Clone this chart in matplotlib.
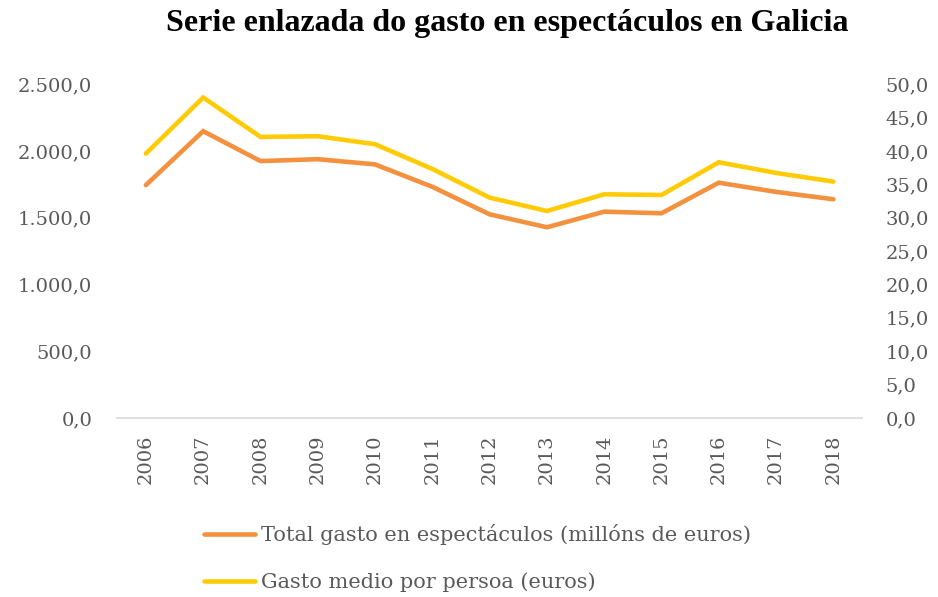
import matplotlib
matplotlib.use("Agg")
import matplotlib.pyplot as plt
from matplotlib.ticker import FuncFormatter, MultipleLocator

years = ["2006", "2007", "2008", "2009", "2010", "2011", "2012",
         "2013", "2014", "2015", "2016", "2017", "2018"]
total_gasto = [1744, 2148, 1924, 1938, 1899, 1731, 1525,
               1428, 1545, 1533, 1762, 1693, 1638]
gasto_medio = [39.6, 48.0, 42.1, 42.2, 41.0, 37.3, 33.0,
               31.0, 33.5, 33.4, 38.3, 36.7, 35.4]

title = "Serie enlazada do gasto en espectáculos en Galicia"
label_total = "Total gasto en espectáculos (millóns de euros)"
label_medio = "Gasto medio por persoa (euros)"

c_orange = "#F4913F"
c_yellow = "#FFCB05"
c_text = "#595959"

plt.rcParams['font.family'] = ['DejaVu Serif']

fig = plt.figure(figsize=(9.38, 5.97), dpi=100)
ax = fig.add_axes([0.125, 0.300, 0.794, 0.559])
ax2 = ax.twinx()

x = list(range(len(years)))
l1, = ax.plot(x, total_gasto, color=c_orange, lw=3.3, solid_capstyle='round',
              solid_joinstyle='miter', label=label_total)
l2, = ax2.plot(x, gasto_medio, color=c_yellow, lw=3.3, solid_capstyle='round',
               solid_joinstyle='miter', label=label_medio)

ax.set_xlim(-0.5, len(years) - 0.5)
ax.set_ylim(0, 2500)
ax2.set_ylim(0, 50)
ax.yaxis.set_major_locator(MultipleLocator(500))
ax2.yaxis.set_major_locator(MultipleLocator(5))

def fmt(v, pos):
    s = f"{v:,.1f}"
    return s.replace(",", "X").replace(".", ",").replace("X", ".")

ax.yaxis.set_major_formatter(FuncFormatter(fmt))
ax2.yaxis.set_major_formatter(FuncFormatter(fmt))

ax.set_xticks(x)
ax.set_xticklabels(years, rotation=90)

for a in (ax, ax2):
    for s in a.spines.values():
        s.set_visible(False)
    a.tick_params(length=0, labelsize=14, labelcolor=c_text)
ax.spines['bottom'].set_visible(True)
ax.spines['bottom'].set_color('#D9D9D9')
ax.spines['bottom'].set_linewidth(1.2)
ax.tick_params(axis='y', pad=18)
ax2.tick_params(axis='y', pad=17)
ax.tick_params(axis='x', pad=12)

fig.text(0.541, 0.96, title, ha='center', va='center', fontsize=23,
         fontweight='bold', color='black', family='Liberation Serif')

leg = fig.legend(handles=[l1, l2], loc='upper left', bbox_to_anchor=(0.209, 0.1357),
                 frameon=False, fontsize=15, handlelength=2.45, handletextpad=0.25,
                 labelspacing=1.3, borderaxespad=0)
for t in leg.get_texts():
    t.set_color(c_text)

fig.savefig("out.png", dpi=100, facecolor='white')
